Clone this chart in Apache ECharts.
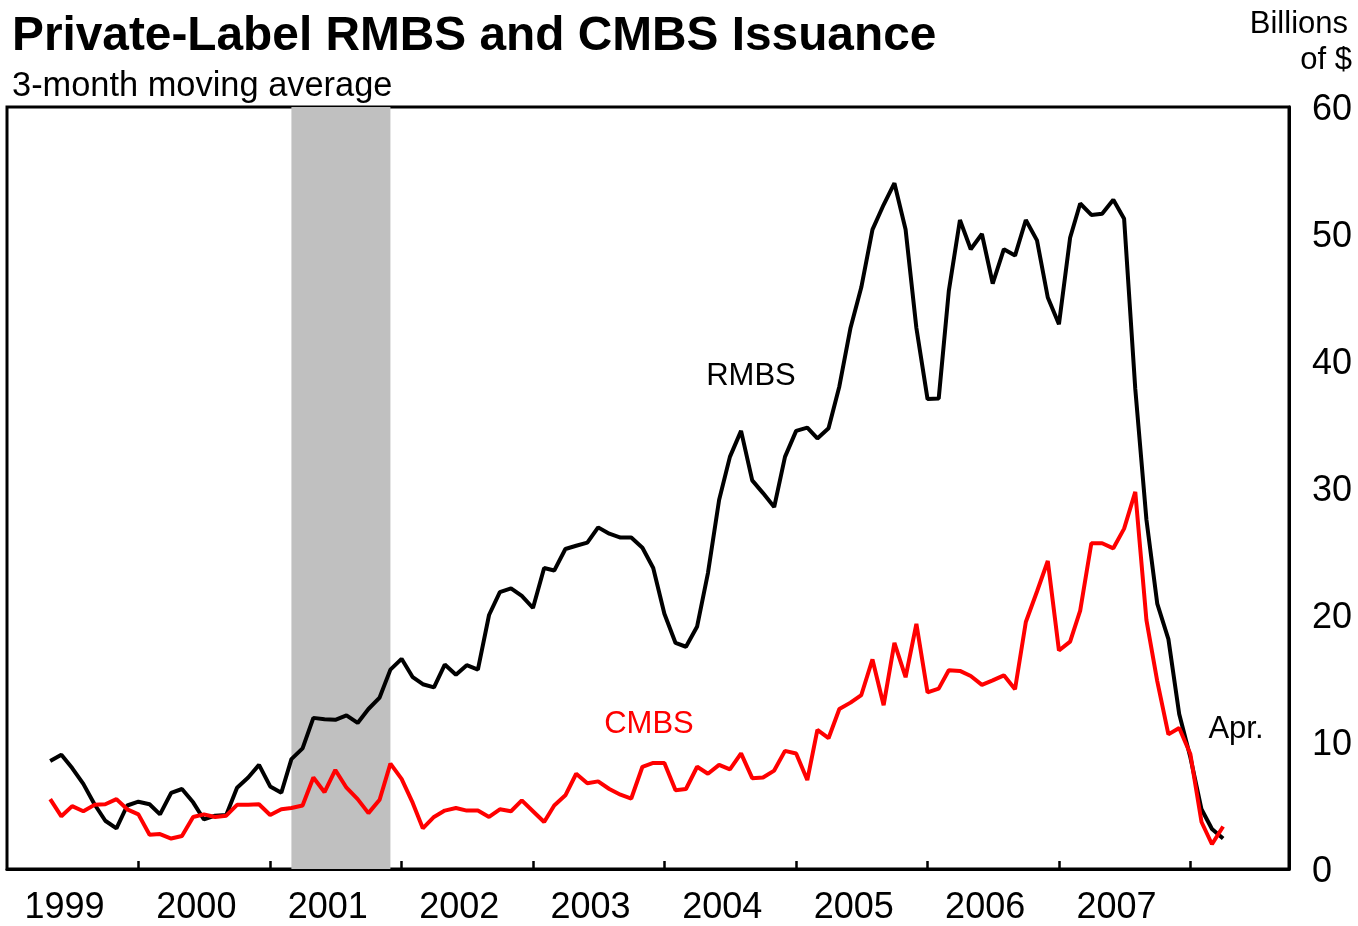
<!DOCTYPE html>
<html>
<head>
<meta charset="utf-8">
<script src="https://cdn.jsdelivr.net/npm/echarts@6/dist/echarts.min.js"></script>
<style>
html,body{margin:0;padding:0;background:#fff;}
#chart{width:1358px;height:926px;}
</style>
</head>
<body>
<div id="chart"></div>
<script>
const months = [
'1999-05','1999-06','1999-07','1999-08','1999-09','1999-10','1999-11','1999-12',
'2000-01','2000-02','2000-03','2000-04','2000-05','2000-06','2000-07','2000-08','2000-09','2000-10','2000-11','2000-12',
'2001-01','2001-02','2001-03','2001-04','2001-05','2001-06','2001-07','2001-08','2001-09','2001-10','2001-11','2001-12',
'2002-01','2002-02','2002-03','2002-04','2002-05','2002-06','2002-07','2002-08','2002-09','2002-10','2002-11','2002-12',
'2003-01','2003-02','2003-03','2003-04','2003-05','2003-06','2003-07','2003-08','2003-09','2003-10','2003-11','2003-12',
'2004-01','2004-02','2004-03','2004-04','2004-05','2004-06','2004-07','2004-08','2004-09','2004-10','2004-11','2004-12',
'2005-01','2005-02','2005-03','2005-04','2005-05','2005-06','2005-07','2005-08','2005-09','2005-10','2005-11','2005-12',
'2006-01','2006-02','2006-03','2006-04','2006-05','2006-06','2006-07','2006-08','2006-09','2006-10','2006-11','2006-12',
'2007-01','2007-02','2007-03','2007-04','2007-05','2007-06','2007-07','2007-08','2007-09','2007-10','2007-11','2007-12',
'2008-01','2008-02','2008-03','2008-04'
];
const rmbs = [
8.5, 9.0, 7.95, 6.7, 5.1, 3.8, 3.2, 5.0,
5.3, 5.1, 4.3, 6.0, 6.3, 5.25, 3.9, 4.2, 4.25, 6.4, 7.2, 8.2,
6.5, 6.0, 8.65, 9.5, 11.9, 11.8, 11.75, 12.1, 11.5, 12.6, 13.5, 15.7,
16.55, 15.1, 14.55, 14.3, 16.1, 15.3, 16.05, 15.7, 20.0, 21.8, 22.1, 21.5,
20.55, 23.7, 23.5, 25.2, 25.45, 25.7, 26.9, 26.4, 26.1, 26.1, 25.3, 23.7,
20.1, 17.8, 17.5, 19.1, 23.3, 29.05, 32.45, 34.5, 30.6, 29.6, 28.5, 32.45,
34.5, 34.75, 33.9, 34.7, 38.0, 42.6, 45.8, 50.35, 52.3, 54.0, 50.35, 42.6,
37.0, 37.05, 45.5, 51.1, 48.8, 50.0, 46.1, 48.8, 48.3, 51.1, 49.5, 45.0,
42.9, 49.7, 52.4, 51.5, 51.6, 52.7, 51.2, 37.8, 27.5, 20.9, 18.1, 12.2,
8.8, 4.7, 3.15, 2.4
];
const cmbs = [
5.5, 4.15, 4.95, 4.55, 5.05, 5.1, 5.5, 4.7,
4.3, 2.7, 2.75, 2.4, 2.6, 4.1, 4.3, 4.1, 4.2, 5.05, 5.05, 5.1,
4.25, 4.7, 4.8, 5.0, 7.2, 6.05, 7.8, 6.4, 5.5, 4.4, 5.45, 8.3,
7.1, 5.2, 3.2, 4.1, 4.6, 4.8, 4.6, 4.6, 4.1, 4.7, 4.55, 5.4,
4.55, 3.7, 5.0, 5.8, 7.5, 6.75, 6.9, 6.3, 5.85, 5.55, 8.05, 8.35,
8.35, 6.2, 6.3, 8.05, 7.5, 8.2, 7.85, 9.1, 7.15, 7.2, 7.75, 9.3,
9.1, 7.0, 10.95, 10.3, 12.6, 13.1, 13.7, 16.5, 12.9, 17.8, 15.1, 19.3,
13.9, 14.2, 15.65, 15.6, 15.2, 14.5, 14.85, 15.25, 14.15, 19.45, 21.85, 24.25,
17.2, 17.9, 20.35, 25.65, 25.65, 25.25, 26.8, 29.7, 19.6, 14.8, 10.6, 11.1,
9.05, 3.7, 1.95, 3.35
];
const yearLabels = ['1999','2000','2001','2002','2003','2004','2005','2006','2007'];
const yearTicks = ['2000','2001','2002','2003','2004','2005','2006','2007','2008'];
const recession = ['2001-03-01', '2001-12-01'];
const axisRange = ['1999-01-01', '2008-10-01'];
const yTicks = [0, 10, 20, 30, 40, 50, 60];

const FONT = '"Liberation Sans", Arial, sans-serif';
function ts(s) { const p = s.split('-').map(Number); return Date.UTC(p[0], (p[1] || 1) - 1, p[2] || 1); }

const rmbsData = months.map((m, i) => [ts(m), rmbs[i]]);
const cmbsData = months.map((m, i) => [ts(m), cmbs[i]]);
const tickValues = yearTicks.map(y => ts(y + '-01-01'));
const labelValues = yearLabels.map(y => ts(y + '-06-10'));

const chart = echarts.init(document.getElementById('chart'), null, {renderer: 'canvas'});
chart.setOption({
  animation: false,
  backgroundColor: '#fff',
  grid: {left: 7, right: 69, top: 107, bottom: 54, show: true, borderColor: '#000', borderWidth: 3, backgroundColor: 'transparent'},
  xAxis: {
    type: 'value',
    min: ts(axisRange[0]),
    max: ts(axisRange[1]),
    axisLine: {show: true, lineStyle: {color: '#000', width: 3}},
    axisTick: {show: true, inside: true, length: 8, lineStyle: {color: '#000', width: 2.5}, customValues: tickValues},
    axisLabel: {
      customValues: labelValues,
      formatter: v => String(new Date(v).getUTCFullYear()),
      color: '#000', fontSize: 36, fontFamily: FONT, margin: 21, hideOverlap: false
    },
    splitLine: {show: false}
  },
  yAxis: {
    type: 'value',
    position: 'right',
    min: yTicks[0], max: yTicks[yTicks.length - 1], interval: 10,
    axisLine: {show: true, lineStyle: {color: '#000', width: 3}},
    axisTick: {show: false},
    axisLabel: {
      margin: 23,
      formatter: v => '{a|' + v + '}',
      rich: {a: {color: '#000', fontSize: 36, fontFamily: FONT, padding: [7, 0, 0, 0]}}
    },
    splitLine: {show: false}
  },
  series: [
    {
      type: 'line', data: [], z: 1, silent: true,
      markArea: {silent: true, itemStyle: {color: '#c0c0c0'}, data: [[{xAxis: ts(recession[0])}, {xAxis: ts(recession[1])}]]}
    },
    {
      name: 'RMBS', type: 'line', data: rmbsData, showSymbol: false, z: 3,
      lineStyle: {color: '#000', width: 4}, itemStyle: {color: '#000'}
    },
    {
      name: 'CMBS', type: 'line', data: cmbsData, showSymbol: false, z: 4,
      lineStyle: {color: '#ff0000', width: 4}, itemStyle: {color: '#ff0000'}
    }
  ],
  graphic: [
    {type: 'text', left: 12, top: 13, style: {text: 'Private-Label RMBS and CMBS Issuance', font: 'bold 47.8px ' + FONT, fill: '#000'}},
    {type: 'text', left: 12, top: 70, style: {text: '3-month moving average', font: '34.4px ' + FONT, fill: '#000'}},
    {type: 'text', right: 10, top: 9, style: {text: 'Billions', font: '31px ' + FONT, fill: '#000'}},
    {type: 'text', right: 6, top: 45, style: {text: 'of $', font: '31px ' + FONT, fill: '#000'}},
    {type: 'text', x: 751, y: 376, style: {text: 'RMBS', font: '31px ' + FONT, fill: '#000', align: 'center', verticalAlign: 'middle'}},
    {type: 'text', x: 649, y: 724, style: {text: 'CMBS', font: '31px ' + FONT, fill: '#ff0000', align: 'center', verticalAlign: 'middle'}},
    {type: 'text', x: 1236, y: 729, style: {text: 'Apr.', font: '31px ' + FONT, fill: '#000', align: 'center', verticalAlign: 'middle'}}
  ]
});
</script>
</body>
</html>
